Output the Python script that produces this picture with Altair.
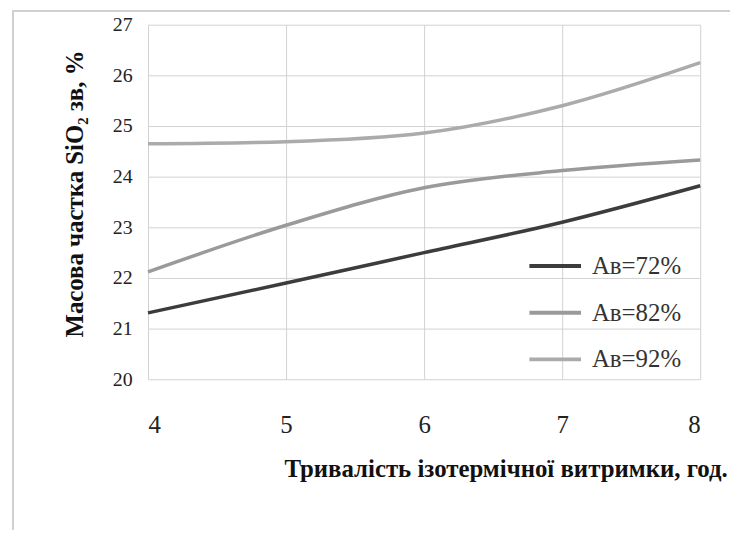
import altair as alt
import pandas as pd

hours = [4, 5, 6, 7, 8]
av72 = [21.31, 21.9, 22.5, 23.1, 23.82]
av82 = [22.12, 23.04, 23.78, 24.12, 24.33]
av92 = [24.65, 24.69, 24.86, 25.4, 26.25]
series_names = ["Ав=72%", "Ав=82%", "Ав=92%"]
series_colors = ["#3c3c3c", "#9a9a9a", "#ababab"]

rows = []
for name, vals in zip(series_names, [av72, av82, av92]):
    for h, v in zip(hours, vals):
        rows.append({"h": h, "v": v, "s": name})
df = pd.DataFrame(rows)

FONT = "Times New Roman, Liberation Serif, serif"
W, H = 556, 357

lines = alt.Chart(df).mark_line(interpolate="monotone", strokeWidth=3.5).encode(
    x=alt.X("h:Q", scale=alt.Scale(domain=[4, 8], nice=False, zero=False),
            axis=alt.Axis(values=hours, format="d", grid=True, gridColor="#d2d2d2",
                          domain=False, ticks=False, labelFont=FONT, labelFontSize=25,
                          labelColor="#222", labelPadding=34,
                          title="Тривалість ізотермічної витримки, год.",
                          titleFont=FONT, titleFontSize=25, titleFontWeight="bold",
                          titleColor="#111", titleX=360, titleY=90, titleAlign="center",
                          titleBaseline="middle")),
    y=alt.Y("v:Q", scale=alt.Scale(domain=[20, 27], nice=False, zero=False),
            axis=alt.Axis(values=list(range(20, 28)), grid=True, gridColor="#d2d2d2",
                          domain=False, ticks=False, labelFont=FONT, labelFontSize=20,
                          labelColor="#222", labelPadding=16,
                          title="Масова частка  SiO₂ зв,  %",
                          titleFont=FONT, titleFontSize=25, titleFontWeight="bold",
                          titleColor="#111", titleX=-74, titleY=170, titleAngle=-90,
                          titleAlign="center", titleBaseline="middle")),
    color=alt.Color("s:N", scale=alt.Scale(domain=series_names, range=series_colors),
                    legend=alt.Legend(title=None, orient="none", legendX=382, legendY=215,
                                      symbolType="stroke", symbolSize=2704,
                                      symbolStrokeWidth=4, labelFont=FONT,
                                      labelFontSize=25, labelColor="#333",
                                      rowPadding=6, labelOffset=9)),
)

frame_left = alt.Chart(df).mark_rule(color="#d0d0d0", strokeWidth=1.5).encode(
    x=alt.value(-136), y=alt.value(-14), y2=alt.value(H + 160))
frame_top = alt.Chart(df).mark_rule(color="#d0d0d0", strokeWidth=1.5).encode(
    x=alt.value(-136), x2=alt.value(W + 40), y=alt.value(-14))

chart = alt.layer(frame_left, frame_top, lines).properties(
    width=W, height=H,
    autosize=alt.AutoSizeParams(type="none"),
    padding={"left": 141, "top": 15, "right": 30, "bottom": 150},
).configure(font=FONT).configure_view(stroke=None)

chart.save("out.html", embed_options={"renderer": "svg", "actions": False})
